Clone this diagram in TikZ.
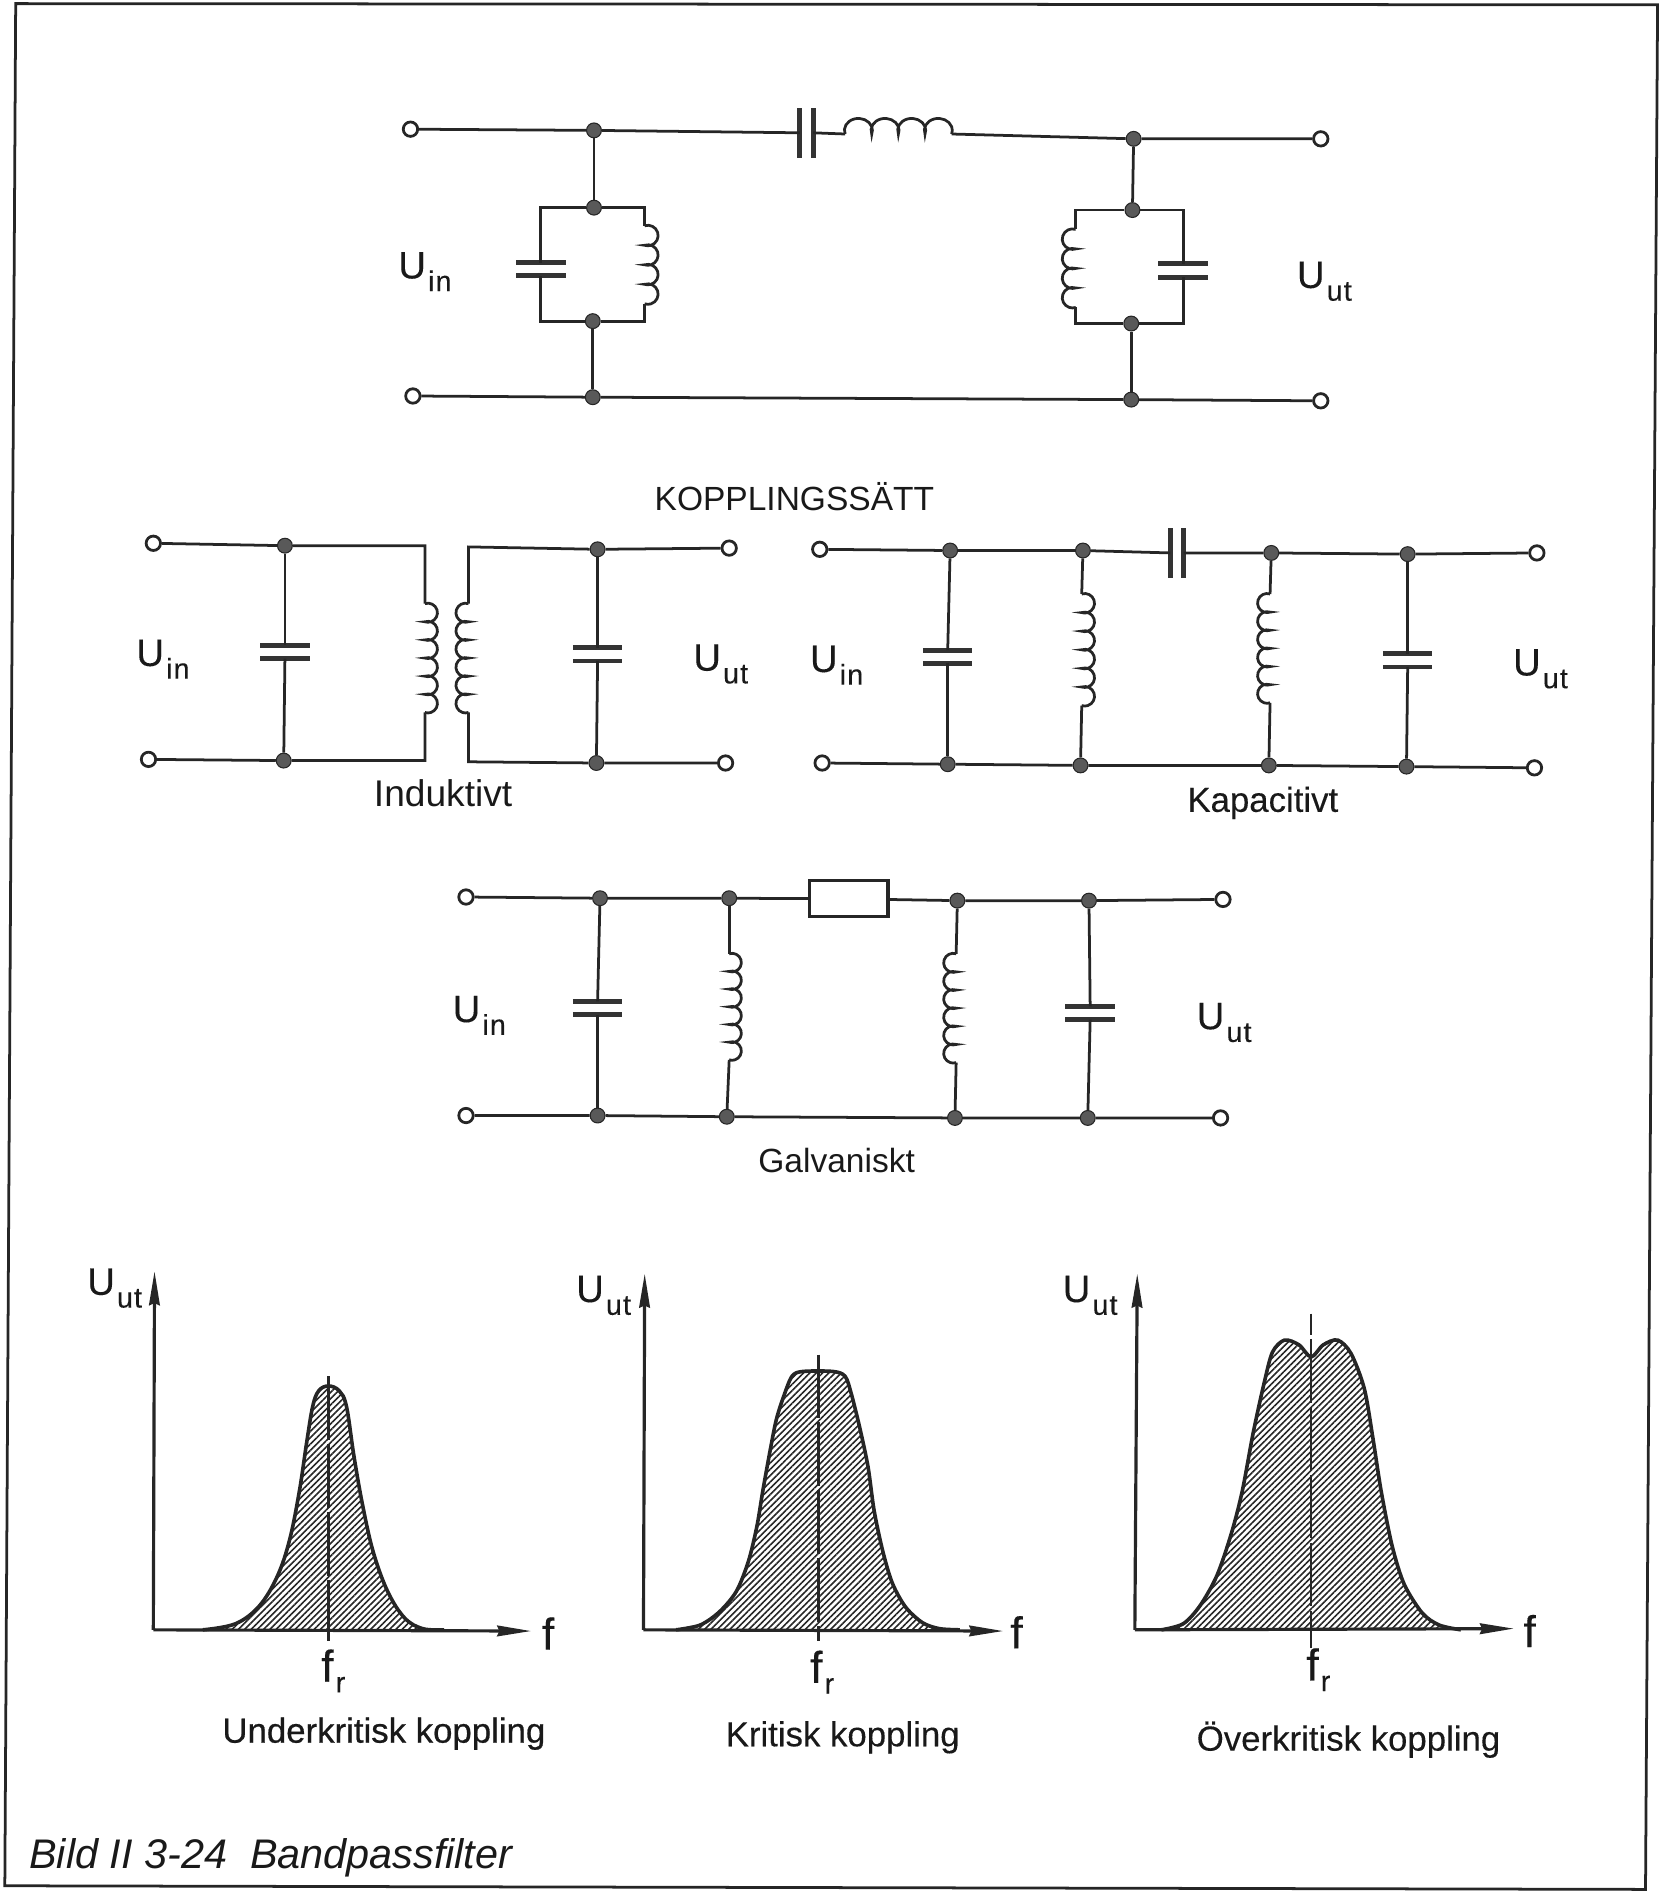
\documentclass[tikz,border=0pt]{standalone}
\usepackage{fontspec}
\setmainfont{Liberation Sans}
\usetikzlibrary{patterns.meta,arrows.meta}
\newcommand{\Ulab}[1]{U\kern1pt\raisebox{-6pt}{\fontsize{13.5}{14}\selectfont\addfontfeature{LetterSpace=4}#1}}
\newcommand{\frlab}{f\kern1pt\raisebox{-5pt}{\fontsize{13.5}{14}\selectfont r}}
\begin{document}
\begin{tikzpicture}[x=0.2mm,y=0.2mm,
  wire/.style={line width=1.3pt,black!85},
  junc/.style={circle,fill=black!65,draw=black!85,line width=0.5pt,minimum size=7pt,inner sep=0pt},
  term/.style={circle,draw=black!85,fill=white,line width=1.3pt,minimum size=6.8pt,inner sep=0pt},
  resist/.style={rectangle,draw=black!85,line width=1.5pt,minimum width=37pt,minimum height=17pt,inner sep=0pt},
  lab/.style={inner sep=0pt,text=black!90,font=\fontsize{16.4}{18}\selectfont\addfontfeature{FakeBold=0.2}},
  boldlab/.style={inner sep=0pt,text=black!90,font=\fontsize{16.4}{18}\selectfont\addfontfeature{FakeBold=0.6}},
  ulab/.style={inner sep=0pt,text=black!90,font=\fontsize{18}{20}\selectfont\addfontfeature{FakeBold=0.2}},
  flab/.style={inner sep=0pt,text=black!90,font=\fontsize{21}{22}\selectfont\addfontfeature{FakeBold=0.3}},
  axis/.style={line width=1.5pt,black!85,-{Stealth[length=16pt,width=5pt,inset=1pt]}},
  fline/.style={line width=1.3pt,black!85,dash pattern=on 30pt off 2pt},
  hatch/.style={pattern={Lines[angle=45,distance=2.1pt,line width=0.75pt]},pattern color=black!85,draw=black!85,line width=1.7pt},
  pics/capa/.style={code={
    \draw [line width=2.3pt,black!80] (-20.5,5.5) -- (20.5,5.5) (-20.5,-5.5) -- (20.5,-5.5);
    \coordinate (-a) at (0,5.5);
    \coordinate (-b) at (0,-5.5);}},
  pics/coil/.style 2 args={code={
    \draw [wire] (0,0) coordinate (-a) \foreach \i in {1,...,#1} {arc (108:-108:#2)} coordinate (-b);}}]
\useasboundingbox (0,0) rectangle (1376,-1568);
% frame
\draw [line width=1.3pt,black!85] (13,-3) -- (1373,-4) -- (1363,-1565) -- (4,-1562) -- cycle;

% filter
\node [term] (t1) at (340,-107) {};
\node [term] (t2) at (342,-328) {};
\node [term] (t3) at (1094,-115) {};
\node [term] (t4) at (1094,-332) {};
\node [junc] (j1) at (492,-108) {};
\node [junc] (j2) at (492,-172) {};
\node [junc] (j3) at (491,-266) {};
\node [junc] (j4) at (491,-329) {};
\node [junc] (j5) at (939,-115) {};
\node [junc] (j6) at (938,-174) {};
\node [junc] (j7) at (937,-268) {};
\node [junc] (j8) at (937,-331) {};
\pic [rotate=90] (cs) at (668,-110) {capa};
\pic [rotate=90,xscale=0.85] (ls) at (700,-111) {coil={4}{11.6}};
\pic (c1) at (448,-223) {capa};
\pic (l1) at (534,-187) {coil={4}{8.5}};
\pic [xscale=-1] (l2) at (891,-190) {coil={4}{8.5}};
\pic (c2) at (980,-224) {capa};
\draw [wire] (t1) -- (j1) -- (cs-a);
\draw [wire] (cs-b) -- (ls-a);
\draw [wire] (ls-b) -- (j5) -- (t3);
\draw [wire] (j1) -- (j2);
\draw [wire] (j2) -| (c1-a);
\draw [wire] (j3) -| (c1-b);
\draw [wire] (j2) -| (l1-a);
\draw [wire] (j3) -| (l1-b);
\draw [wire] (j3) -- (j4);
\draw [wire] (t2) -- (j4) -- (j8) -- (t4);
\draw [wire] (j5) -- (j6);
\draw [wire] (j6) -| (l2-a);
\draw [wire] (j7) -| (l2-b);
\draw [wire] (j6) -| (c2-a);
\draw [wire] (j7) -| (c2-b);
\draw [wire] (j7) -- (j8);
\node [ulab] (ui1) at (352,-225) {\Ulab{in}};
\node [ulab] (uu1) at (1097,-233) {\Ulab{ut}};
\node [lab,font=\fontsize{15.8}{18}\selectfont] (rubrik) at (658,-411) {KOPPLINGSSÄTT};

% induktivt
\node [term] (a1) at (127,-450) {};
\node [term] (a2) at (123,-629) {};
\node [term] (a3) at (604,-454) {};
\node [term] (a4) at (601,-632) {};
\node [junc] (a5) at (236,-452) {};
\node [junc] (a6) at (235,-630) {};
\node [junc] (a7) at (495,-455) {};
\node [junc] (a8) at (494,-632) {};
\coordinate (a9) at (352,-452);
\coordinate (a10) at (352,-630);
\coordinate (a11) at (388,-453);
\coordinate (a12) at (388,-631);
\pic (ca1) at (236,-540) {capa};
\pic (ca2) at (495,-542) {capa};
\pic (la1) at (352,-500) {coil={6}{7.9}};
\pic [xscale=-1] (la2) at (388,-500) {coil={6}{7.9}};
\draw [wire] (a1) -- (a5) -- (a9) -- (la1-a);
\draw [wire] (la1-b) -- (a10) -- (a6) -- (a2);
\draw [wire] (a3) -- (a7) -- (a11) -- (la2-a);
\draw [wire] (la2-b) -- (a12) -- (a8) -- (a4);
\draw [wire] (a5) -- (ca1-a);
\draw [wire] (ca1-b) -- (a6);
\draw [wire] (a7) -- (ca2-a);
\draw [wire] (ca2-b) -- (a8);
\node [ulab] (ui2) at (135,-546) {\Ulab{in}};
\node [ulab] (uu2) at (597,-550) {\Ulab{ut}};
\node [lab,font=\fontsize{17.5}{18}\selectfont] (ind) at (367,-657) {Induktivt};

% kapacitivt
\node [term] (b1) at (679,-455) {};
\node [term] (b2) at (681,-632) {};
\node [term] (b3) at (1273,-458) {};
\node [term] (b4) at (1271,-636) {};
\node [junc] (b5) at (787,-456) {};
\node [junc] (b6) at (897,-456) {};
\node [junc] (b7) at (1053,-458) {};
\node [junc] (b8) at (1166,-459) {};
\node [junc] (b9) at (785,-633) {};
\node [junc] (b10) at (895,-634) {};
\node [junc] (b11) at (1051,-634) {};
\node [junc] (b12) at (1165,-635) {};
\pic (cb1) at (785,-544) {capa};
\pic (cb2) at (1166,-547) {capa};
\pic [rotate=90] (cb3) at (975,-458) {capa};
\pic (lb1) at (896,-492) {coil={6}{8.1}};
\pic [xscale=-1] (lb2) at (1052,-492) {coil={6}{7.9}};
\draw [wire] (b1) -- (b5) -- (b6) -- (cb3-a);
\draw [wire] (cb3-b) -- (b7) -- (b8) -- (b3);
\draw [wire] (b2) -- (b9) -- (b10) -- (b11) -- (b12) -- (b4);
\draw [wire] (b5) -- (cb1-a);
\draw [wire] (cb1-b) -- (b9);
\draw [wire] (b8) -- (cb2-a);
\draw [wire] (cb2-b) -- (b12);
\draw [wire] (b6) -- (lb1-a);
\draw [wire] (lb1-b) -- (b10);
\draw [wire] (b7) -- (lb2-a);
\draw [wire] (lb2-b) -- (b11);
\node [ulab] (ui3) at (693,-551) {\Ulab{in}};
\node [ulab] (uu3) at (1276,-554) {\Ulab{ut}};
\node [lab] (kap) at (1046,-665) {Kapacitivt};

% galvaniskt
\node [term] (d1) at (386,-743) {};
\node [term] (d2) at (386,-924) {};
\node [term] (d3) at (1013,-745) {};
\node [term] (d4) at (1011,-926) {};
\node [junc] (d5) at (497,-744) {};
\node [junc] (d6) at (604,-744) {};
\node [junc] (d7) at (793,-746) {};
\node [junc] (d8) at (902,-746) {};
\node [junc] (d9) at (495,-924) {};
\node [junc] (d10) at (602,-925) {};
\node [junc] (d11) at (791,-926) {};
\node [junc] (d12) at (901,-926) {};
\node [resist] (rg) at (703,-744.5) {};
\pic (cd1) at (495,-835) {capa};
\pic (cd2) at (903,-839) {capa};
\pic (ld1) at (604,-790) {coil={6}{7.7}};
\pic [xscale=-1] (ld2) at (792,-790) {coil={6}{7.9}};
\draw [wire] (d1) -- (d5) -- (d6) -- (rg);
\draw [wire] (rg) -- (d7) -- (d8) -- (d3);
\draw [wire] (d2) -- (d9) -- (d10) -- (d11) -- (d12) -- (d4);
\draw [wire] (d5) -- (cd1-a);
\draw [wire] (cd1-b) -- (d9);
\draw [wire] (d8) -- (cd2-a);
\draw [wire] (cd2-b) -- (d12);
\draw [wire] (d6) -- (ld1-a);
\draw [wire] (ld1-b) -- (d10);
\draw [wire] (d7) -- (ld2-a);
\draw [wire] (ld2-b) -- (d11);
\node [ulab] (ui4) at (397,-841) {\Ulab{in}};
\node [ulab] (uu4) at (1014,-847) {\Ulab{ut}};
\node [lab,font=\fontsize{15.8}{18}\selectfont] (gal) at (693,-961) {Galvaniskt};

% underkritisk
\coordinate (o1) at (127,-1350);
\coordinate (y1) at (128,-1053);
\coordinate (x1) at (440,-1351);
\coordinate (m1a) at (272,-1140);
\coordinate (m1b) at (272,-1359);
\filldraw [hatch] plot [smooth,tension=0.6] coordinates {(168,-1350) (195,-1345) (215,-1330) (230,-1305) (240,-1275) (248,-1235) (254,-1195) (259,-1165) (264,-1152) (272,-1148) (281,-1152) (287,-1165) (293,-1205) (300,-1245) (309,-1285) (321,-1318) (335,-1340) (350,-1349) (368,-1350)};
\draw [axis] (o1) -- (y1);
\draw [axis] (o1) -- (x1);
\draw [fline] (m1a) -- (m1b);
\node [ulab] (uu5) at (95,-1067) {\Ulab{ut}};
\node [flab] (f1) at (454,-1353) {f};
\node [flab] (fr1) at (276,-1384) {\frlab};
\node [boldlab] (und) at (318,-1436) {Underkritisk koppling};

% kritisk
\coordinate (o2) at (533,-1350);
\coordinate (y2) at (534,-1055);
\coordinate (x2) at (831,-1351);
\coordinate (m2a) at (678,-1122);
\coordinate (m2b) at (678,-1359);
\filldraw [hatch] plot [smooth,tension=0.5] coordinates {(560,-1350) (580,-1346) (596,-1335) (610,-1318) (620,-1293) (627,-1264) (632,-1234) (638,-1201) (643,-1176) (649,-1157) (656,-1140) (665,-1136) (690,-1136) (700,-1140) (705,-1154) (712,-1182) (719,-1215) (724,-1251) (731,-1284) (739,-1311) (750,-1331) (764,-1344) (778,-1349) (795,-1350)};
\draw [axis] (o2) -- (y2);
\draw [axis] (o2) -- (x2);
\draw [fline] (m2a) -- (m2b);
\node [ulab] (uu6) at (500,-1073) {\Ulab{ut}};
\node [flab] (f2) at (842,-1352) {f};
\node [flab] (fr2) at (681,-1385) {\frlab};
\node [lab] (kri) at (698,-1439) {Kritisk koppling};

% overkritisk
\coordinate (o3) at (940,-1350);
\coordinate (y3) at (942,-1055);
\coordinate (x3) at (1254,-1349);
\coordinate (m3a) at (1086,-1088);
\coordinate (m3b) at (1086,-1365);
\filldraw [hatch] plot [smooth,tension=0.5] coordinates {(962,-1350) (980,-1345) (994,-1330) (1008,-1305) (1020,-1270) (1029,-1235) (1038,-1187) (1047,-1146) (1054,-1120) (1064,-1110) (1076,-1114) (1086,-1124) (1096,-1114) (1108,-1110) (1119,-1121) (1130,-1150) (1137,-1190) (1144,-1235) (1153,-1280) (1163,-1312) (1178,-1336) (1192,-1346) (1210,-1350)};
\draw [axis] (o3) -- (y3);
\draw [axis] (o3) -- (x3);
\draw [fline,dash phase=20pt] (m3a) -- (m3b);
\node [ulab] (uu7) at (903,-1073) {\Ulab{ut}};
\node [flab] (f3) at (1267,-1351) {f};
\node [flab] (fr3) at (1092,-1383) {\frlab};
\node [lab] (ove) at (1117,-1441) {Överkritisk koppling};

\node [inner sep=0pt,anchor=west,text=black!90,font=\itshape\fontsize{19.5}{22}\selectfont] (bild) at (24,-1539) {Bild II 3-24\ \ Bandpassfilter};
\end{tikzpicture}
\end{document}
